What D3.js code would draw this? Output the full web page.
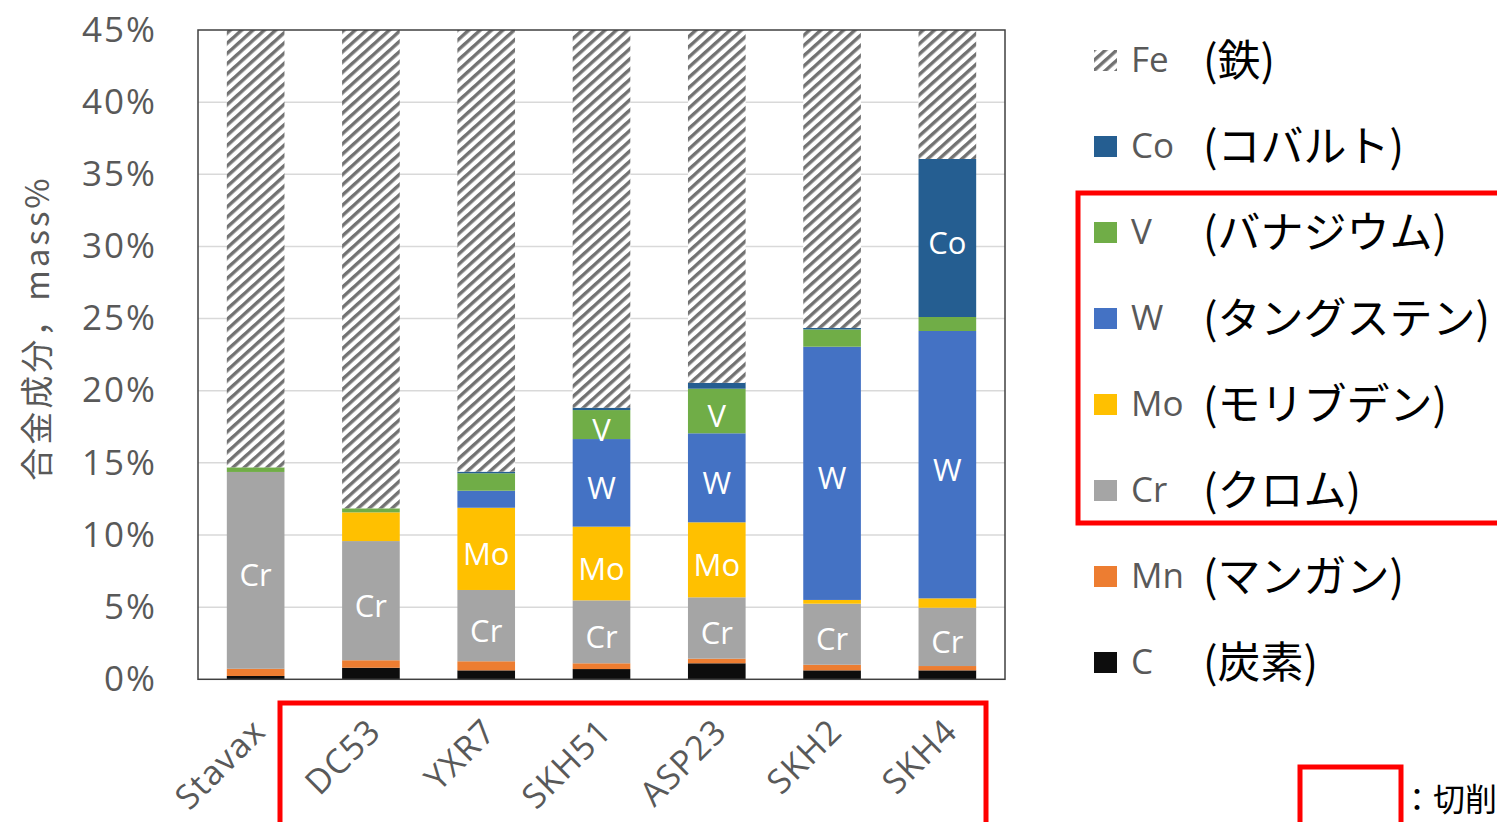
<!DOCTYPE html>
<html><head><meta charset="utf-8">
<script src="https://cdn.jsdelivr.net/npm/d3@7"></script>
<style>
html,body{margin:0;padding:0;background:#fff;}
svg{display:block;}
</style>
</head><body>
<svg id="chart" width="1497" height="822"></svg>
<script>
// ---- data (mass %) ----
const categories = ["Stavax","DC53","YXR7","SKH51","ASP23","SKH2","SKH4"];
const C  = [0.23,0.80,0.62,0.71,1.11,0.62,0.62];
const Mn = [0.50,0.52,0.63,0.40,0.32,0.39,0.30];
const Cr = [13.64,8.26,4.94,4.36,4.25,4.23,4.04];
const Mo = [0,1.99,5.70,5.11,5.20,0.26,0.65];
const W  = [0,0,1.18,6.07,6.17,17.55,18.53];
const V  = [0.32,0.28,1.21,2.01,3.09,1.20,0.97];
const Co = [0,0,0.11,0.16,0.41,0.10,10.95];
const Fe = [85.31,88.15,85.61,81.18,79.45,75.65,63.94];
const yTicks = [0,5,10,15,20,25,30,35,40,45];
const yTickLabels = ["0%","5%","10%","15%","20%","25%","30%","35%","40%","45%"];
const stackOrder = ["C","Mn","Cr","Mo","W","V","Co","Fe"];
const legendOrder = ["Fe","Co","V","W","Mo","Cr","Mn","C"];
const legendNames = ["(鉄)","(コバルト)","(バナジウム)","(タングステン)","(モリブデン)","(クロム)","(マンガン)","(炭素)"];
const barLabels = [["Stavax","Cr"],["DC53","Cr"],["YXR7","Mo"],["YXR7","Cr"],
  ["SKH51","V"],["SKH51","W"],["SKH51","Mo"],["SKH51","Cr"],
  ["ASP23","V"],["ASP23","W"],["ASP23","Mo"],["ASP23","Cr"],
  ["SKH2","W"],["SKH2","Cr"],["SKH4","Co"],["SKH4","W"],["SKH4","Cr"]];
const yTitle = "合金成分，mass%";
const noteText = "：切削";

// ---- build table ----
const series = {C, Mn, Cr, Mo, W, V, Co, Fe};
const rows = categories.map((c,i)=>{const r={cat:c}; stackOrder.forEach(k=>r[k]=series[k][i]); return r;});
const colors = {C:"#0d0d0d",Mn:"#ed7d31",Cr:"#a5a5a5",Mo:"#ffc000",W:"#4472c4",V:"#70ad47",Co:"#255e91",Fe:"url(#hatch)"};

const svg = d3.select("#chart");
const plot = {left:198,right:1005,top:30,bottom:679.3};
const latin = "'Open Sans','Noto Sans',sans-serif";
const cjk = "'Noto Sans CJK JP',sans-serif";

const defs = svg.append("defs");
const pat = defs.append("pattern").attr("id","hatch").attr("patternUnits","userSpaceOnUse")
  .attr("width",10).attr("height",7.6).attr("patternTransform","rotate(-42)");
pat.append("rect").attr("width",10).attr("height",7.6).attr("fill","#fff");
pat.append("rect").attr("y",0).attr("width",10).attr("height",3.4).attr("fill","#727272");
defs.append("clipPath").attr("id","plotclip").append("rect")
  .attr("x",plot.left).attr("y",plot.top).attr("width",plot.right-plot.left).attr("height",plot.bottom-plot.top);

const x = d3.scaleBand().domain(categories).range([plot.left,plot.right]).paddingInner(0.5).paddingOuter(0.25);
const y = d3.scaleLinear().domain([0,45]).range([plot.bottom,plot.top]);

// gridlines
svg.append("g").selectAll("line").data(yTicks.slice(1,-1)).join("line")
  .attr("x1",plot.left).attr("x2",plot.right).attr("y1",d=>y(d)).attr("y2",d=>y(d))
  .attr("stroke","#d9d9d9").attr("stroke-width",1.5);

// stacked bars
const stacked = d3.stack().keys(stackOrder)(rows);
const gBars = svg.append("g").attr("clip-path","url(#plotclip)");
stacked.forEach(layer=>{
  gBars.append("g").selectAll("rect").data(layer).join("rect")
    .attr("x",d=>x(d.data.cat)).attr("width",x.bandwidth())
    .attr("y",d=>y(d[1])).attr("height",d=>Math.max(0,y(d[0])-y(d[1])))
    .attr("fill",colors[layer.key]);
});

// in-bar labels
const segLookup = {};
stacked.forEach(layer=>layer.forEach(d=>{segLookup[d.data.cat+"|"+layer.key]=d;}));
svg.append("g").selectAll("text").data(barLabels).join("text")
  .attr("x",d=>x(d[0])+x.bandwidth()/2)
  .attr("y",d=>{const s=segLookup[d[0]+"|"+d[1]]; return y((s[0]+s[1])/2)+4;})
  .attr("text-anchor","middle").attr("dominant-baseline","central")
  .attr("fill","#fff").attr("font-family",latin).attr("font-size",31)
  .text(d=>d[1]);

// frame
svg.append("rect").attr("x",plot.left).attr("y",plot.top).attr("width",plot.right-plot.left)
  .attr("height",plot.bottom-plot.top).attr("fill","none").attr("stroke","#404040").attr("stroke-width",1.5);

// y axis
const yAxis = d3.axisLeft(y).tickValues(yTicks).tickFormat((d,i)=>yTickLabels[i]).tickSize(0).tickPadding(41);
const gy = svg.append("g").attr("transform",`translate(${plot.left},0)`).call(yAxis);
gy.select(".domain").remove();
gy.selectAll("text").attr("font-family",latin).attr("font-size",35).attr("fill","#595959").attr("letter-spacing",2);

// x axis labels
const xAxis = d3.axisBottom(x).tickSize(0).tickPadding(0);
const gx = svg.append("g").attr("transform",`translate(0,${plot.bottom})`).call(xAxis);
gx.select(".domain").remove();
gx.selectAll("text").attr("font-family",latin).attr("font-size",34).attr("fill","#595959")
  .attr("letter-spacing",1.2)
  .attr("text-anchor","end").attr("dy",null).attr("y",0)
  .attr("transform","translate(12,54) rotate(-45)");

// y title
svg.append("text").attr("transform","translate(35,328) rotate(-90)")
  .attr("text-anchor","middle").attr("dominant-baseline","central")
  .attr("font-family",cjk).attr("font-size",33).attr("fill","#595959").attr("letter-spacing",3)
  .text(yTitle);

// legend
const legY0 = 58, legStep = 86;
const gl = svg.append("g");
legendOrder.forEach((k,i)=>{
  const cy = legY0 + i*legStep;
  gl.append("rect").attr("x",1094).attr("y",cy-8).attr("width",23).attr("height",21).attr("fill",colors[k]);
  gl.append("text").attr("x",1131).attr("y",cy).attr("dominant-baseline","central")
    .attr("font-family",latin).attr("font-size",35).attr("fill","#595959").text(k);
  gl.append("text").attr("x",1203).attr("y",cy-1).attr("dominant-baseline","central")
    .attr("font-family",cjk).attr("font-size",43).attr("fill","#000").text(legendNames[i]);
});

// red highlight boxes
const red = "#ff0000";
svg.append("rect").attr("x",1078).attr("y",193).attr("width",440).attr("height",330)
  .attr("fill","none").attr("stroke",red).attr("stroke-width",5);
svg.append("rect").attr("x",280).attr("y",703).attr("width",706).attr("height",140)
  .attr("fill","none").attr("stroke",red).attr("stroke-width",5);
svg.append("rect").attr("x",1300).attr("y",767).attr("width",101).attr("height",80)
  .attr("fill","none").attr("stroke",red).attr("stroke-width",5);
svg.append("text").attr("x",1401).attr("y",797).attr("dominant-baseline","central")
  .attr("font-family",cjk).attr("font-size",32).attr("fill","#000").text(noteText);
</script>
</body></html>
